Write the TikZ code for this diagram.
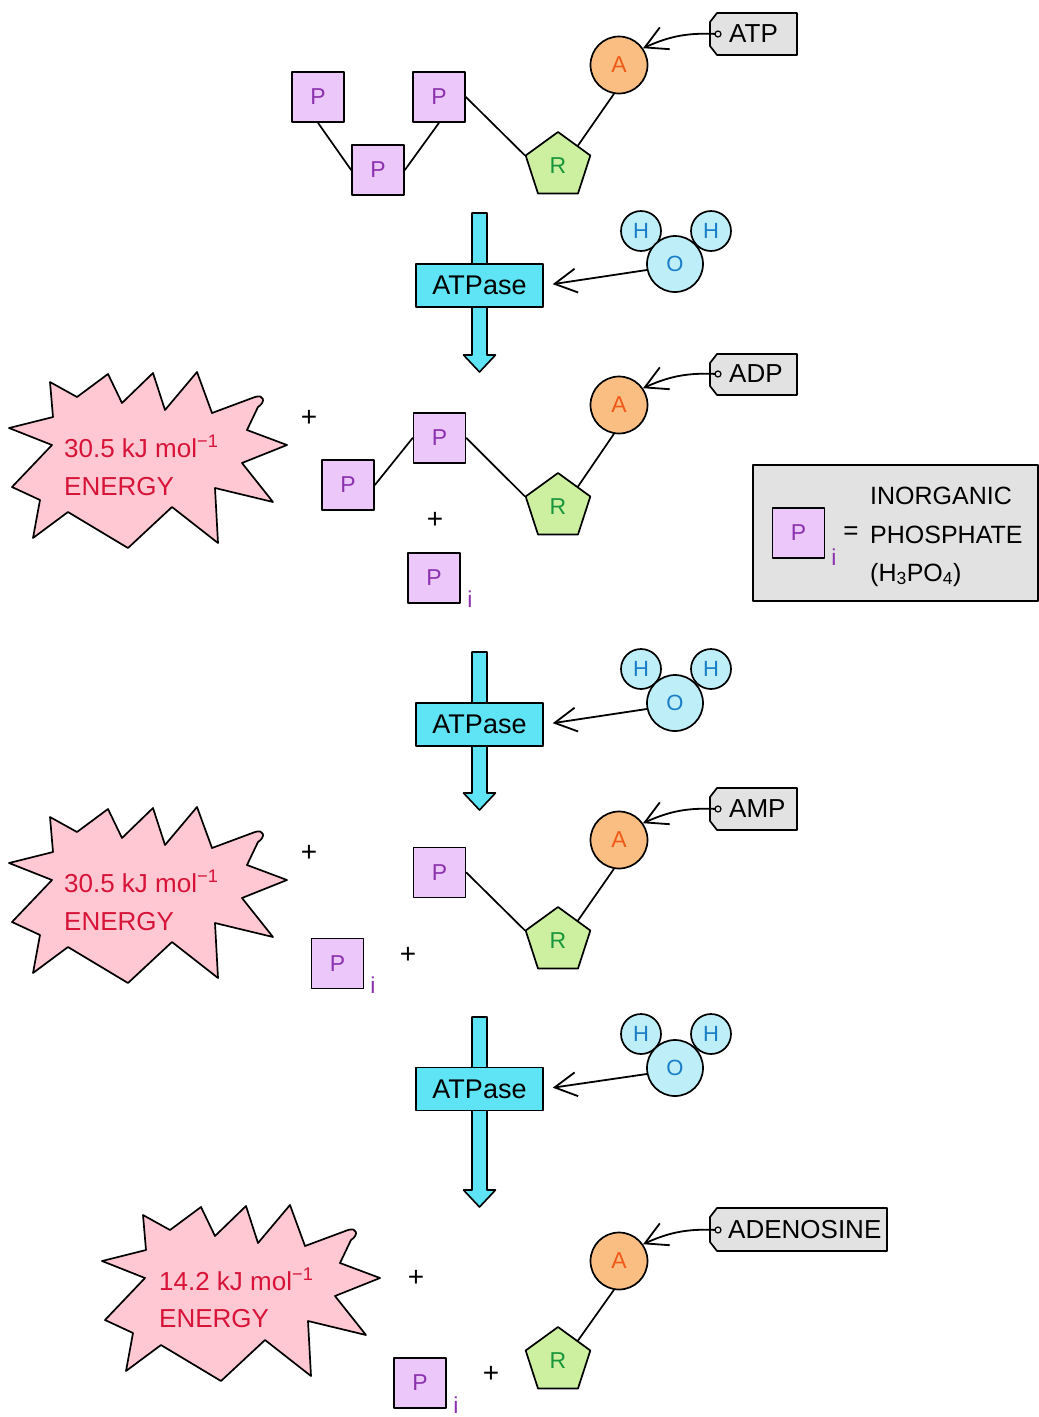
\documentclass[tikz,border=0pt]{standalone}
\usepackage{fontspec}
\setmainfont{Liberation Sans}
\usetikzlibrary{shapes.geometric,arrows.meta,calc}
\definecolor{pfill}{RGB}{236,200,250}
\definecolor{ptext}{RGB}{140,50,175}
\definecolor{rfill}{RGB}{205,240,160}
\definecolor{rtext}{RGB}{25,150,60}
\definecolor{afill}{RGB}{250,190,130}
\definecolor{atext}{RGB}{240,90,25}
\definecolor{tagfill}{RGB}{226,226,226}
\definecolor{cyanfill}{RGB}{95,228,245}
\definecolor{wfill}{RGB}{190,238,248}
\definecolor{wtext}{RGB}{25,125,200}
\definecolor{burstfill}{RGB}{255,200,210}
\definecolor{bursttext}{RGB}{215,20,55}
\newcommand\fs[1]{\fontsize{#1}{#1}\selectfont}
\newcommand\labeltag[4]{% xl, yt, xr, yb
  \draw[tagsty] (#1+7,#2) -- (#1,#2+9) -- (#1,#4-9) -- (#1+7,#4) -- (#3,#4) -- (#3,#2) -- cycle;}
\newcommand\cyanarrow[3]{% xc, ytop, ytip
  \draw[bigarr] (#1-7.5,#2) -- (#1+7.5,#2) -- (#1+7.5,#3-17) -- (#1+16,#3-17) -- (#1,#3) -- (#1-16,#3-17) -- (#1-7.5,#3-17) -- cycle;}
\newcommand\burstat[2]{%
  \draw[burst,shift={(#1,#2)}] (9,428) -- (53,417) -- (50,382) -- (77,397) -- (108,374) -- (122,403) -- (153,373) -- (165,410) -- (197,372) -- (212,413) -- (255,397) .. controls (264,394) and (266,402) .. (258,407) -- (247,430) -- (287,445) -- (242,463) -- (273,502) -- (215,488) -- (218,543) -- (172,507) -- (128,548) -- (68,512) -- (33,538) -- (40,500) -- (12,487) -- (52,445) -- cycle;}
\begin{document}
\begin{tikzpicture}[x=1pt,y=-1pt,
  line cap=round, line join=round,
  pbox/.style={draw, line width=1.7pt, fill=pfill, minimum width=52pt, minimum height=50pt, inner sep=0pt, text=ptext, font=\fs{23}},
  rpent/.style={draw, line width=1.7pt, regular polygon, regular polygon sides=5, minimum size=68pt, inner sep=0pt, fill=rfill, text=rtext, font=\fs{23}},
  acirc/.style={draw, line width=1.7pt, circle, minimum size=57pt, inner sep=0pt, fill=afill, text=atext, font=\fs{23}},
  hcirc/.style={draw, line width=1.7pt, circle, minimum size=40pt, inner sep=0pt, fill=wfill, text=wtext, font=\fs{22}},
  ocirc/.style={draw, line width=1.7pt, circle, minimum size=56pt, inner sep=0pt, fill=wfill, text=wtext, font=\fs{22}},
  enzyme/.style={draw, line width=1.7pt, fill=cyanfill, minimum width=127pt, minimum height=43pt, inner sep=0pt, font=\fs{27}},
  bigarr/.style={draw, line width=1.6pt, fill=cyanfill},
  bond/.style={line width=1.7pt},
  tagsty/.style={draw, line width=1.7pt, fill=tagfill},
  tagtxt/.style={anchor=west, inner sep=0pt, font=\fs{26}},
  hole/.style={draw, line width=1.2pt, fill=tagfill},
  tagarrow/.style={line width=1.8pt, -{Straight Barb[length=22pt,width=24pt,line width=1.8pt]}},
  waterarrow/.style={line width=1.8pt, shorten >=9pt, -{Straight Barb[length=22pt,width=24pt,line width=1.8pt]}},
  burst/.style={draw, line width=1.7pt, fill=burstfill},
  bursttxt/.style={anchor=base west, inner sep=0pt, text=bursttext, font=\fs{26}},
  plus/.style={inner sep=0pt, font=\fs{28}},
  subi/.style={inner sep=0pt, text=ptext, font=\fs{23}},
  infotxt/.style={anchor=base west, inner sep=0pt, font=\fs{25}}
]
\useasboundingbox[fill=white] (0,0) rectangle (1039,1417);

% ================= ATP =================
\node[pbox] (p1a) at (318,97) {P};
\node[pbox] (p2a) at (378,170) {P};
\node[pbox] (p3a) at (439,97) {P};
\node[rpent] (ra) at (558,166) {R};
\node[acirc] (aa) at (619,65) {A};
\draw[bond] (p1a.south) -- (p2a.west);
\draw[bond] (p2a.east) -- (p3a.south);
\draw[bond] (p3a.east) -- (ra.corner 2);
\draw[bond] ($(ra.corner 1)!0.6!(ra.corner 5)$) -- (aa.260);
\labeltag{710}{13}{797}{55}
\coordinate (ha) at (718,34);
\draw[hole] (ha) circle (3pt);
\node[tagtxt] (ta) at (729,34) {ATP};
\draw[tagarrow, shorten <=3pt] (ha) .. controls (690,33) and (672,35) .. (aa.35);

% ================= water 1 + ATPase 1 =================
\cyanarrow{479.5}{213}{372}
\node[enzyme] (e1) at (479.5,285.5) {ATPase};
\node[hcirc] (h1a) at (641,231) {H};
\node[hcirc] (h1b) at (711,231) {H};
\node[ocirc] (o1) at (675,264) {O};
\draw[waterarrow] (o1.192) -- (e1.east);

% ================= ADP =================
\burstat{0}{0}
\node[bursttxt] (b1a) at (64,457) {30.5 kJ mol\textsuperscript{−1}};
\node[bursttxt] (b1b) at (64,495) {ENERGY};
\node[plus] (pl1) at (309,418) {+};
\node[pbox] (p1b) at (348,485) {P};
\node[pbox] (p2b) at (439.5,438) {P};
\node[rpent] (rb) at (558,507) {R};
\node[acirc] (ab) at (619,405) {A};
\draw[bond] (p1b.east) -- (p2b.west);
\draw[bond] (p2b.east) -- (rb.corner 2);
\draw[bond] ($(rb.corner 1)!0.6!(rb.corner 5)$) -- (ab.260);
\node[plus] (pl2) at (435,520) {+};
\node[pbox] (pib) at (434,578) {P};
\node[subi] (sib) at (470,599) {i};
\labeltag{710}{354}{797}{395}
\coordinate (hb) at (718,374);
\draw[hole] (hb) circle (3pt);
\node[tagtxt] (tb) at (729,374) {ADP};
\draw[tagarrow, shorten <=3pt] (hb) .. controls (690,373) and (672,375) .. (ab.35);

% ================= info box =================
\node[draw, line width=1.5pt, fill=tagfill, minimum width=285pt, minimum height=136pt, inner sep=0pt] (info) at (895.5,533) {};
\node[pbox] (pinfo) at (798.5,533) {P};
\node[subi] (siinfo) at (834,557) {i};
\node[inner sep=0pt, font=\fs{26}] (eq) at (851,533) {=};
\node[infotxt] (in1) at (870,504) {INORGANIC};
\node[infotxt] (in2) at (870,543) {PHOSPHATE};
\node[infotxt] (in3) at (870,581) {(H\textsubscript{3}PO\textsubscript{4})};

% ================= water 2 + ATPase 2 =================
\cyanarrow{479.5}{652}{810}
\node[enzyme] (e2) at (479.5,724.5) {ATPase};
\node[hcirc] (h2a) at (641,669) {H};
\node[hcirc] (h2b) at (711,669) {H};
\node[ocirc] (o2) at (675,703) {O};
\draw[waterarrow] (o2.192) -- (e2.east);

% ================= AMP =================
\burstat{0}{435}
\node[bursttxt] (b2a) at (64,892) {30.5 kJ mol\textsuperscript{−1}};
\node[bursttxt] (b2b) at (64,930) {ENERGY};
\node[plus] (pl3) at (309,853) {+};
\node[pbox] (p1c) at (439.5,872.5) {P};
\node[rpent] (rc) at (558,941) {R};
\node[acirc] (ac) at (619,840) {A};
\draw[bond] (p1c.east) -- (rc.corner 2);
\draw[bond] ($(rc.corner 1)!0.6!(rc.corner 5)$) -- (ac.260);
\node[pbox] (pic) at (337.5,963.5) {P};
\node[subi] (sic) at (373,985) {i};
\node[plus] (pl4) at (408,955) {+};
\labeltag{710}{788}{797}{830}
\coordinate (hc) at (718,809);
\draw[hole] (hc) circle (3pt);
\node[tagtxt] (tc) at (729,809) {AMP};
\draw[tagarrow, shorten <=3pt] (hc) .. controls (690,808) and (672,810) .. (ac.35);

% ================= water 3 + ATPase 3 =================
\cyanarrow{479.5}{1017}{1207}
\node[enzyme] (e3) at (479.5,1089) {ATPase};
\node[hcirc] (h3a) at (641,1034) {H};
\node[hcirc] (h3b) at (711,1034) {H};
\node[ocirc] (o3) at (675,1068) {O};
\draw[waterarrow] (o3.192) -- (e3.east);

% ================= adenosine =================
\burstat{93}{833}
\node[bursttxt] (b3a) at (159,1290) {14.2 kJ mol\textsuperscript{−1}};
\node[bursttxt] (b3b) at (159,1327) {ENERGY};
\node[plus] (pl5) at (416,1278) {+};
\node[pbox] (pid) at (420,1383) {P};
\node[subi] (sid) at (456,1405) {i};
\node[plus] (pl6) at (491,1374) {+};
\node[rpent] (rd) at (558,1361) {R};
\node[acirc] (ad) at (619,1261) {A};
\draw[bond] ($(rd.corner 1)!0.6!(rd.corner 5)$) -- (ad.260);
\labeltag{710}{1208}{887}{1251}
\coordinate (hd) at (718,1230);
\draw[hole] (hd) circle (3pt);
\node[tagtxt] (td) at (728,1230) {ADENOSINE};
\draw[tagarrow, shorten <=3pt] (hd) .. controls (690,1229) and (672,1231) .. (ad.35);
\end{tikzpicture}
\end{document}
